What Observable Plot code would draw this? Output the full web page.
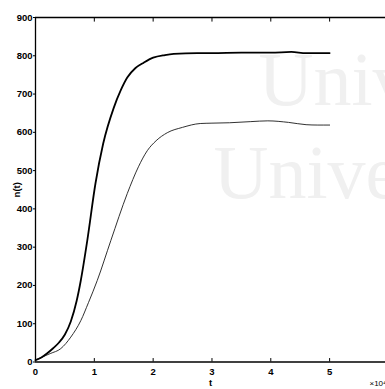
<!DOCTYPE html>
<html>
<head>
<meta charset="utf-8">
<script src="https://cdn.jsdelivr.net/npm/d3@7"></script>
<script src="https://cdn.jsdelivr.net/npm/@observablehq/plot@0.6"></script>
<style>
  html, body { margin: 0; padding: 0; background: #fff; }
  #chart svg { display: block; }
</style>
</head>
<body>
<div id="chart"></div>
<script>
// Upper (thick) curve
const tUpper = [0, 0.1, 0.2, 0.3, 0.4, 0.5, 0.6, 0.7, 0.77, 0.88, 1.02, 1.15, 1.33, 1.45, 1.56, 1.7, 1.84, 2.0, 2.2, 2.35, 2.75, 3.0, 3.5, 4.0, 4.35, 4.6, 5.0];
const nUpper = [5, 12, 23, 36, 51, 72, 106, 160, 213, 317, 467, 570, 664, 710, 743, 768, 782, 795, 802, 805, 807, 807, 808, 808, 810, 807, 807];
// Lower (thin) curve
const tLower = [0, 0.1, 0.25, 0.43, 0.6, 0.77, 0.9, 1.05, 1.28, 1.56, 1.75, 1.9, 2.05, 2.24, 2.5, 2.8, 3.0, 3.3, 3.66, 3.95, 4.3, 4.6, 4.8, 5.0];
const nLower = [5, 12, 22, 35, 65, 108, 155, 213, 317, 440, 510, 552, 578, 599, 613, 623, 624, 625, 628, 630, 626, 620, 619, 619];
// Ticks
const xTicks = [0, 1, 2, 3, 4, 5];
const yTicks = [0, 100, 200, 300, 400, 500, 600, 700, 800, 900];
const watermark = ["Univ", "Univer"];

const upper = tUpper.map((t, i) => ({t, n: nUpper[i]}));
const lower = tLower.map((t, i) => ({t, n: nLower[i]}));
const innerTicks = xTicks.slice(1);

const font = "'Liberation Sans', Arial, sans-serif";

const chart = Plot.plot({
  width: 385,
  height: 389,
  marginLeft: 35,
  marginRight: 0,
  marginTop: 17,
  marginBottom: 27.5,
  style: {fontFamily: font, fontSize: "9.5px", fontWeight: "bold", color: "#000", background: "#fff"},
  x: {domain: [0, 5.95]},
  y: {domain: [0, 900]},
  marks: [
    // faint watermark
    Plot.text([watermark[0]], {text: d => d, frameAnchor: "top-left", dx: 223, dy: 63, textAnchor: "start", lineAnchor: "middle",
      fontSize: 76, fontFamily: "'Liberation Serif', 'DejaVu Serif', serif", fontWeight: "normal", fill: "#f0f0f0"}),
    Plot.text([watermark[1]], {text: d => d, frameAnchor: "top-left", dx: 178, dy: 156, textAnchor: "start", lineAnchor: "middle",
      fontSize: 76, fontFamily: "'Liberation Serif', 'DejaVu Serif', serif", fontWeight: "normal", fill: "#f0f0f0"}),
    Plot.axisX({ticks: xTicks, tickFormat: d3.format("d"), tickSize: 0, tickPadding: 6, label: "t", labelAnchor: "center", labelOffset: 24, labelArrow: "none", fontWeight: "bold"}),
    Plot.axisY({ticks: yTicks, tickFormat: d3.format("d"), tickSize: 2, tickPadding: 1, label: "n(t)", labelAnchor: "center", labelOffset: 22, labelArrow: "none", fontWeight: "bold"}),
    // box lines (right side lies outside the window)
    Plot.ruleY([0, 900], {stroke: "#000", strokeWidth: 1.3}),
    Plot.ruleX([0], {stroke: "#000", strokeWidth: 1.3}),
    // inward ticks bottom & top
    Plot.ruleX(innerTicks, {y1: 0, y2: 9, stroke: "#000", strokeWidth: 1}),
    Plot.ruleX(innerTicks, {y1: 900, y2: 888, stroke: "#000", strokeWidth: 1}),
    // curves
    Plot.line(lower, {x: "t", y: "n", curve: "monotone-x", stroke: "#1a1a1a", strokeWidth: 0.9}),
    Plot.line(upper, {x: "t", y: "n", curve: "monotone-x", stroke: "#000", strokeWidth: 1.8}),
    // exponent note, cut off at right edge
    Plot.text(["\u00d710\u2074"], {text: d => d, frameAnchor: "bottom-right", dx: -16, dy: 24, textAnchor: "start", fontSize: 8, fontWeight: "normal"})
  ]
});

document.getElementById("chart").appendChild(chart);
</script>
</body>
</html>
